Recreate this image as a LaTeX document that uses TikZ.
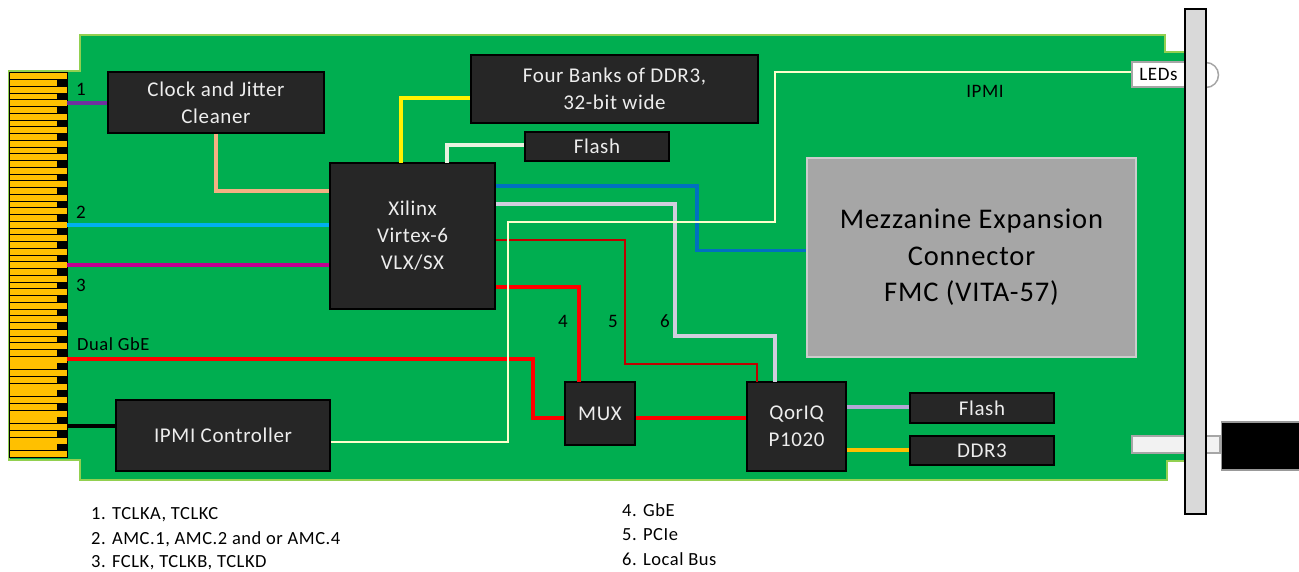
\documentclass[tikz,border=0pt]{standalone}
\usepackage{fontspec}
\setmainfont[LetterSpace=3]{Carlito}
\usetikzlibrary{calc}
\definecolor{boardg}{HTML}{00AE50}
\definecolor{boardl}{HTML}{92D050}
\definecolor{chipc}{HTML}{262626}
\definecolor{goldc}{HTML}{FFC000}
\definecolor{wpurple}{HTML}{7030A0}
\definecolor{wcyan}{HTML}{00B0F0}
\definecolor{wmag}{HTML}{C00090}
\definecolor{wtan}{HTML}{F4B183}
\definecolor{wblue}{HTML}{0070C0}
\definecolor{wlav}{HTML}{D0CEDE}
\definecolor{wlavb}{HTML}{B4A7D6}
\definecolor{wdred}{HTML}{C00000}
\definecolor{wpale}{HTML}{FFFFCC}
\definecolor{wwhite}{HTML}{E8F2E0}
\tikzset{
  x=1pt,y=-1pt,
  chip/.style={draw=black,line width=1.5pt,fill=chipc,text=white!93!black,align=center,inner sep=0pt,font=\fontsize{21}{27}\selectfont},
  lab/.style={inner sep=0pt,text=black,font=\fontsize{19}{22}\selectfont},
  leg/.style={lab,anchor=west,font=\fontsize{18.5}{22}\selectfont},
  wire/.style={line width=3.5pt,line join=miter},
  redw/.style={line width=4pt,red,line join=miter},
  thinw/.style={line width=2pt},
}
\newcommand{\chipnode}[7]{\node[chip,#7,minimum width=#4pt-#2pt,minimum height=#5pt-#3pt] (#1) at ({(#2+#4)/2},{(#3+#5)/2}) {#6};}
\begin{document}
\begin{tikzpicture}
\useasboundingbox (0,0) rectangle (1299,571);
% board
\fill[boardg,draw=boardl,line width=1.5pt] (80,35) -- (1165,35) -- (1165,52) -- (1185,52) -- (1185,461) -- (1167,461) -- (1167,480) -- (80,480) -- (80,460) -- (9,460) -- (9,71) -- (80,71) -- cycle;
% edge connector
\fill[black] (9,72) rectangle (67.5,457.5);
\foreach \i in {0,...,28} {
  \fill[goldc] (10,{73.3+13.49*\i}) rectangle (67,{79.3+13.49*\i});
}
\foreach \i in {0,...,27} {
  \fill[goldc] (10,{80.2+13.49*\i}) rectangle (56.5,{85.9+13.49*\i});
}
% faceplate parts
\node[draw=black!35,line width=1.5pt,fill=white!95!black,minimum width=88pt,minimum height=17pt,inner sep=0pt] (lug) at (1176,444.5) {};
\node[draw=black!40,line width=1.5pt,fill=black,minimum width=79pt,minimum height=48pt,inner sep=0pt,anchor=west] (plug) at (1220.5,446) {};
\draw[black!35,line width=1.5pt,fill=white] (1206,62.5) arc[start angle=-90,end angle=90,radius=12.5];
\node[draw=black!35,line width=1.5pt,fill=white,minimum width=53pt,minimum height=25pt,inner sep=0pt,font=\fontsize{19}{22}\selectfont,text=black] (leds) at (1158.5,74.5) {LEDs};
\node[draw=black,line width=1.5pt,fill=black!15,minimum width=21pt,minimum height=505pt,inner sep=0pt] (plate) at (1195.5,261.5) {};
% chips
\chipnode{clk}{108}{72}{324}{133}{\raisebox{-1.5pt}{Clock and Jitter}\\\raisebox{-1.5pt}{Cleaner}}{}
\chipnode{ddr}{471}{55}{758}{123}{Four Banks of DDR3,\\32-bit wide}{}
\chipnode{flasha}{525}{132}{669}{161}{Flash}{}
\chipnode{xil}{330}{163}{495}{309}{Xilinx\\Virtex-6\\VLX/SX}{}
\chipnode{mux}{565}{382}{635}{445}{MUX}{}
\chipnode{qor}{747}{382}{846}{471}{QorIQ\\P1020}{}
\chipnode{ipmi}{116}{400}{330}{471}{IPMI Controller}{}
\chipnode{flashb}{910}{393}{1054}{423}{Flash}{}
\chipnode{ddrb}{910}{436}{1054}{465}{DDR3}{}
\node[draw=black!20,line width=1.5pt,fill=black!35,text=black,align=center,inner sep=0pt,minimum width=329pt,minimum height=199pt,font=\fontsize{28.5}{36.5}\selectfont] (mezz) at (971.5,257.5) {\raisebox{-3pt}{Mezzanine Expansion}\\\raisebox{-3pt}{Connector}\\\raisebox{-3pt}{FMC (VITA-57)}};
% connector named ends
\coordinate (e1) at (67,103);
\coordinate (e2) at (67,225);
\coordinate (e3) at (67,265);
\coordinate (e4) at (67,359);
\coordinate (e5) at (67,426);
% wires
\draw[wire,wpurple] (e1) -- (e1 -| clk.west);
\draw[wire,wcyan] (e2) -- (e2 -| xil.west);
\draw[wire,wmag] (e3) -- (e3 -| xil.west);
\draw[redw] (e4) -- (533,359) -- (533,417.5) -- (mux.west |- 0,417.5);
\draw[wire,black] (e5) -- (e5 -| ipmi.west);
\draw[redw] (mux.east |- 0,417.5) -- (qor.west |- 0,417.5);
\draw[wire,wtan] (clk.south) -- (216,191) -- (xil.west |- 0,191);
\draw[wire,yellow] (401,163) -- (401,98) -- (ddr.west |- 0,98);
\draw[wire,wwhite] (447,163) -- (447,145) -- (flasha.west |- 0,145);
\draw[wire,wblue] (xil.east |- 0,186) -- (697,186) -- (697,250.5) -- (mezz.west |- 0,250.5);
\draw[wire,wlav] (xil.east |- 0,204) -- (675,204) -- (675,336) -- (775,336) -- (775,382);
\draw[thinw,wdred] (xil.east |- 0,240) -- (625,240) -- (625,364) -- (757,364) -- (757,382);
\draw[redw] (xil.east |- 0,286.5) -- (579,286.5) -- (579,382);
\draw[wire,wlavb] (qor.east |- 0,407) -- (flashb.west |- 0,407);
\draw[wire,goldc] (qor.east |- 0,450) -- (ddrb.west |- 0,450);
\draw[line width=1.5pt,wpale] (ipmi.east |- 0,442) -- (508,442) -- (508,222) -- (775,222) -- (775,72) -- (leds.west |- 0,72);
% labels
\node[lab] (l1) at (81,89.5) {1};
\node[lab] (l2) at (81,212.5) {2};
\node[lab] (l3) at (81,285.5) {3};
\node[leg] (lg) at (77,344.5) {Dual GbE};
\node[lab] (l4) at (563,321) {4};
\node[lab] (l5) at (613,321) {5};
\node[lab] (l6) at (665,321) {6};
\node[lab] (li) at (985,91) {IPMI};
\node[leg] (t1) at (91,515) {1. TCLKA, TCLKC};
\node[leg] (t2) at (91,539.5) {2. AMC.1, AMC.2 and or AMC.4};
\node[leg] (t3) at (91,562.5) {3. FCLK, TCLKB, TCLKD};
\node[leg] (t4) at (622,510) {4. GbE};
\node[leg] (t5) at (622,535) {5. PCIe};
\node[leg] (t6) at (622,559) {6. Local Bus};
\end{tikzpicture}
\end{document}
